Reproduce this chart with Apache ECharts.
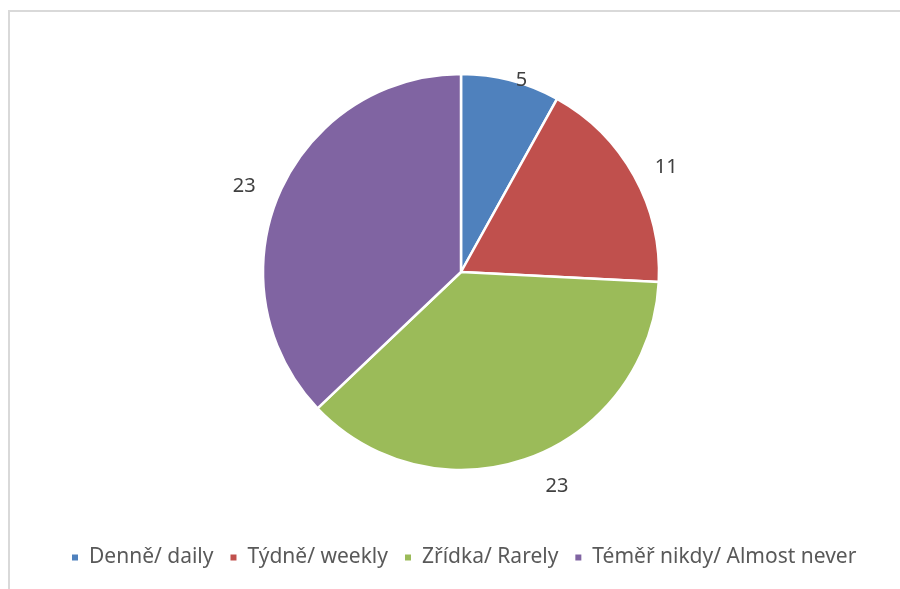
<!DOCTYPE html>
<html>
<head>
<meta charset="utf-8">
<script src="https://cdn.jsdelivr.net/npm/echarts@6/dist/echarts.min.js"></script>
<style>
  html, body { margin: 0; padding: 0; background: #fff; }
  #chart { width: 900px; height: 589px; }
</style>
</head>
<body>
<div id="chart"></div>
<script>
  // data
  const categories = ['Denně/ daily', 'Týdně/ weekly', 'Zřídka/ Rarely', 'Téměř nikdy/ Almost never'];
  const counts = [5, 11, 23, 23];
  const colors = ['#4F81BD', '#C0504D', '#9BBB59', '#8064A2'];
  // distance of each value label from the pie edge (Excel puts them unevenly)
  const labelDist = [0.5, 18, 31, 20];

  let myChart = echarts.init(document.getElementById('chart'));

  let option = {
    backgroundColor: '#fff',
    color: colors,
    animation: false,
    // light frame at top and left (chart area edge)
    graphic: [{
      type: 'polyline',
      shape: { points: [[9, 600], [9, 11], [910, 11]] },
      style: { stroke: '#d9d9d9', lineWidth: 2, fill: null }
    }],
    legend: {
      data: categories,
      bottom: 16,
      left: 65,
      itemWidth: 8,
      itemHeight: 8,
      itemGap: 15,
      icon: 'rect',
      textStyle: {
        fontFamily: 'Noto Sans',
        fontSize: 21,
        color: '#595959',
        padding: [0, 0, 0, 5]
      }
    },
    series: [{
      type: 'pie',
      center: [461, 272],
      radius: 198,
      startAngle: 90,
      clockwise: true,
      avoidLabelOverlap: false,
      itemStyle: { borderColor: '#fff', borderWidth: 2.5 },
      label: {
        show: true,
        position: 'outside',
        formatter: '{c}',
        fontFamily: 'Noto Sans',
        fontSize: 20,
        color: '#404040'
      },
      labelLine: { show: false, length: 14, length2: 0 },
      emphasis: { disabled: true },
      data: categories.map((name, i) => ({
        name: name,
        value: counts[i],
        labelLine: { show: false, length: labelDist[i], length2: 0 }
      }))
    }]
  };

  myChart.setOption(option);
</script>
</body>
</html>
